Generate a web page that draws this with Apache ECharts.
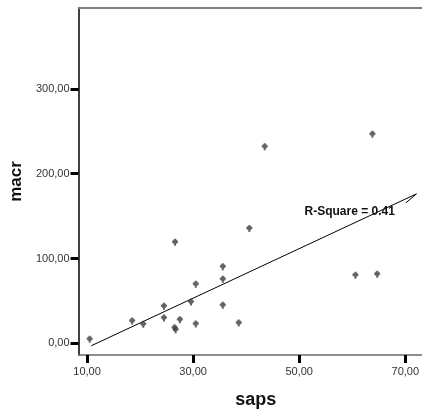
<!DOCTYPE html>
<html>
<head>
<meta charset="utf-8">
<script src="https://cdn.jsdelivr.net/npm/echarts@6/dist/echarts.min.js"></script>
<style>
  html, body { margin: 0; padding: 0; background: #fff; }
  #chart { width: 422px; height: 414px; }
</style>
</head>
<body>
<div id="chart"></div>
<script>
// saps vs macr observations
const saps = [10.5, 18.5, 20.6, 24.5, 24.5, 26.5, 26.7, 27.5, 29.6, 30.5, 30.5,
              35.6, 35.6, 35.6, 38.6, 40.6, 43.5, 60.6, 63.8, 64.7];
const macr = [5.9, 27.7, 23.8, 45.0, 31.2, 19.5, 17.1, 29.0, 50.0, 71.0, 24.0,
              91.4, 76.9, 46.0, 25.3, 136.7, 232.8, 81.6, 247.7, 82.8];
// extra point on top of the cluster near saps 26.6
const sapsHigh = [26.6];
const macrHigh = [120.3];

// linear fit line (start, end) and the short leader barb at its end
const fitX = [10.8, 72.1, 70.1];
const fitY = [-2.8, 176.2, 165.6];
const rSquare = 0.41;
const rSquareAt = [51.0, 155.0];

// axis ticks
const xTicks = [10, 30, 50, 70];
const yTicks = [0, 100, 200, 300];

const fmt = v => v.toFixed(2).replace('.', ',');

const points = saps.map((x, i) => [x, macr[i]])
  .concat(sapsHigh.map((x, i) => [x, macrHigh[i]]));
const fitLine = fitX.map((x, i) => [x, fitY[i]]);

const marker = 'path://M2,0 H4 V1 H5 V2 H6 V4 H5 V5 H4 V7 H2 V5 H1 V4 H0 V2 H1 V1 H2 Z';
const font = '"Liberation Sans", Arial, sans-serif';

const chart = echarts.init(document.getElementById('chart'), null, { renderer: 'canvas' });
chart.setOption({
  animation: false,
  backgroundColor: '#fff',
  grid: { left: 77, right: 0, top: 8, bottom: 57 },
  xAxis: [{
    type: 'value',
    min: 8.4, max: 73.1,
    position: 'bottom',
    name: 'saps',
    nameLocation: 'middle',
    nameGap: 36,
    nameTextStyle: { fontFamily: font, fontWeight: 'bold', fontSize: 18, color: '#111', padding: [0, 0, 0, 11] },
    splitLine: { show: false },
    axisLine: { onZero: false, lineStyle: { color: '#6a6a6a', width: 1.5 } },
    axisTick: { customValues: xTicks, inside: false, length: 8, lineStyle: { color: '#000', width: 3 } },
    axisLabel: { customValues: xTicks, formatter: fmt, margin: 11, fontFamily: font, fontSize: 11, color: '#333' }
  }, {
    type: 'value',
    min: 8.4, max: 73.1,
    position: 'top',
    splitLine: { show: false },
    axisLine: { onZero: false, lineStyle: { color: '#808080', width: 2 } },
    axisTick: { show: false },
    axisLabel: { show: false }
  }],
  yAxis: {
    type: 'value',
    min: -13.7, max: 395.3,
    name: 'macr',
    nameLocation: 'middle',
    nameRotate: 90,
    nameGap: 49,
    nameTextStyle: { fontFamily: font, fontWeight: 'bold', fontSize: 17, color: '#111' },
    splitLine: { show: false },
    axisLine: { show: true, onZero: false, lineStyle: { color: '#000', width: 1.5 } },
    axisTick: { show: true, customValues: yTicks, inside: false, length: 8, lineStyle: { color: '#000', width: 3 } },
    axisLabel: { customValues: yTicks, formatter: fmt, margin: 9, fontFamily: font, fontSize: 11, color: '#333' }
  },
  series: [{
    type: 'line',
    data: fitLine,
    symbol: 'none',
    silent: true,
    lineStyle: { color: '#000', width: 1 },
    z: 2,
    markPoint: {
      symbol: 'circle',
      symbolSize: 0,
      data: [{ coord: rSquareAt }],
      label: {
        show: true,
        position: 'right',
        distance: 0,
        formatter: 'R-Square = ' + rSquare.toFixed(2),
        fontFamily: font,
        fontWeight: 'bold',
        fontSize: 12,
        color: '#111'
      }
    }
  }, {
    type: 'scatter',
    data: points,
    symbol: marker,
    symbolSize: [6, 7],
    symbolOffset: [0, 1],
    itemStyle: { color: '#3c3c3c' },
    z: 3
  }]
});
</script>
</body>
</html>
